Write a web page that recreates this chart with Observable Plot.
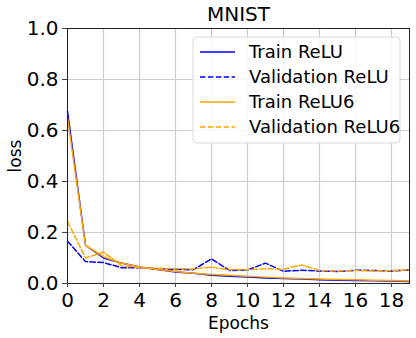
<!DOCTYPE html>
<html>
<head>
<meta charset="utf-8">
<script src="https://cdn.jsdelivr.net/npm/d3@7"></script>
<script src="https://cdn.jsdelivr.net/npm/@observablehq/plot@0.6"></script>
<style>
  html, body { margin: 0; padding: 0; background: #fff; }
  svg { font-family: "DejaVu Sans", sans-serif; }
</style>
</head>
<body>
<div id="chart"></div>
<script>
const epochs = [0,1,2,3,4,5,6,7,8,9,10,11,12,13,14,15,16,17,18,19];
const trainReLU  = [0.675,0.150,0.100,0.080,0.065,0.055,0.045,0.040,0.032,0.028,0.025,0.022,0.020,0.018,0.015,0.013,0.012,0.011,0.010,0.008];
const valReLU    = [0.166,0.086,0.082,0.062,0.062,0.058,0.055,0.054,0.097,0.051,0.053,0.080,0.048,0.052,0.049,0.047,0.052,0.051,0.049,0.053];
const trainReLU6 = [0.650,0.150,0.105,0.080,0.065,0.055,0.047,0.040,0.035,0.032,0.028,0.025,0.022,0.020,0.018,0.016,0.015,0.013,0.012,0.010];
const valReLU6   = [0.244,0.100,0.123,0.070,0.062,0.060,0.058,0.057,0.064,0.054,0.054,0.058,0.056,0.073,0.051,0.049,0.051,0.049,0.051,0.053];
const seriesNames = ["Train ReLU","Validation ReLU","Train ReLU6","Validation ReLU6"];
const seriesColors = ["blue","blue","orange","orange"];
const seriesDash = [null,"5.5,2.4",null,"5.5,2.4"];
const seriesValues = [trainReLU, valReLU, trainReLU6, valReLU6];
const xTicks = [0,2,4,6,8,10,12,14,16,18];
const yTicks = [0,0.2,0.4,0.6,0.8,1.0];
const title = "MNIST";
const xLabel = "Epochs";
const yLabel = "loss";

const lineMarks = seriesValues.map((vals, i) =>
  Plot.line(epochs.map((e, j) => ({x: e, y: vals[j]})), {
    x: "x", y: "y", stroke: seriesColors[i], strokeWidth: 1.5,
    strokeDasharray: seriesDash[i]
  })
);

const chart = Plot.plot({
  width: 416, height: 338,
  marginLeft: 67, marginRight: 7, marginTop: 28, marginBottom: 55,
  style: {fontFamily: "DejaVu Sans, sans-serif", background: "#fff"},
  x: {domain: [0, 19]},
  y: {domain: [0, 1]},
  marks: [
    Plot.gridX(xTicks, {stroke: "#cccccc", strokeOpacity: 1, strokeWidth: 1.2}),
    Plot.gridY(yTicks, {stroke: "#cccccc", strokeOpacity: 1, strokeWidth: 1.2}),
    ...lineMarks,
    Plot.frame({stroke: "#222", strokeWidth: 1}),
    Plot.axisX(xTicks, {tickSize: 4, tickPadding: 5, fontSize: 20, label: null, stroke: "#444"}),
    Plot.axisY(yTicks, {tickSize: 5, tickPadding: 4, fontSize: 20, label: null, tickFormat: d => d.toFixed(1), stroke: "#444"}),
    Plot.text([title], {frameAnchor: "top", lineAnchor: "middle", dy: -14, fontSize: 20, fill: "black"}),
    Plot.text([xLabel], {frameAnchor: "bottom", lineAnchor: "middle", dy: 40, fontSize: 17, fill: "black"}),
    Plot.text([yLabel], {frameAnchor: "left", textAnchor: "middle", lineAnchor: "middle", dx: -52, rotate: -90, fontSize: 17, fill: "black"})
  ]
});

document.getElementById("chart").appendChild(chart);

// Legend
const svg = d3.select(chart);
const lg = svg.append("g").attr("transform", "translate(193,37)");
lg.append("rect").attr("width", 207).attr("height", 106).attr("rx", 4)
  .attr("fill", "white").attr("fill-opacity", 0.85).attr("stroke", "#d8d8d8");
seriesNames.forEach((name, i) => {
  const y = 15 + i * 25;
  lg.append("line").attr("x1", 7).attr("x2", 42).attr("y1", y).attr("y2", y)
    .attr("stroke", seriesColors[i]).attr("stroke-width", 1.5)
    .attr("stroke-dasharray", seriesDash[i]);
  lg.append("text").attr("x", 56).attr("y", y).attr("dy", "0.35em")
    .attr("text-anchor", "start")
    .attr("font-size", 18).attr("fill", "black").text(name);
});
</script>
</body>
</html>
